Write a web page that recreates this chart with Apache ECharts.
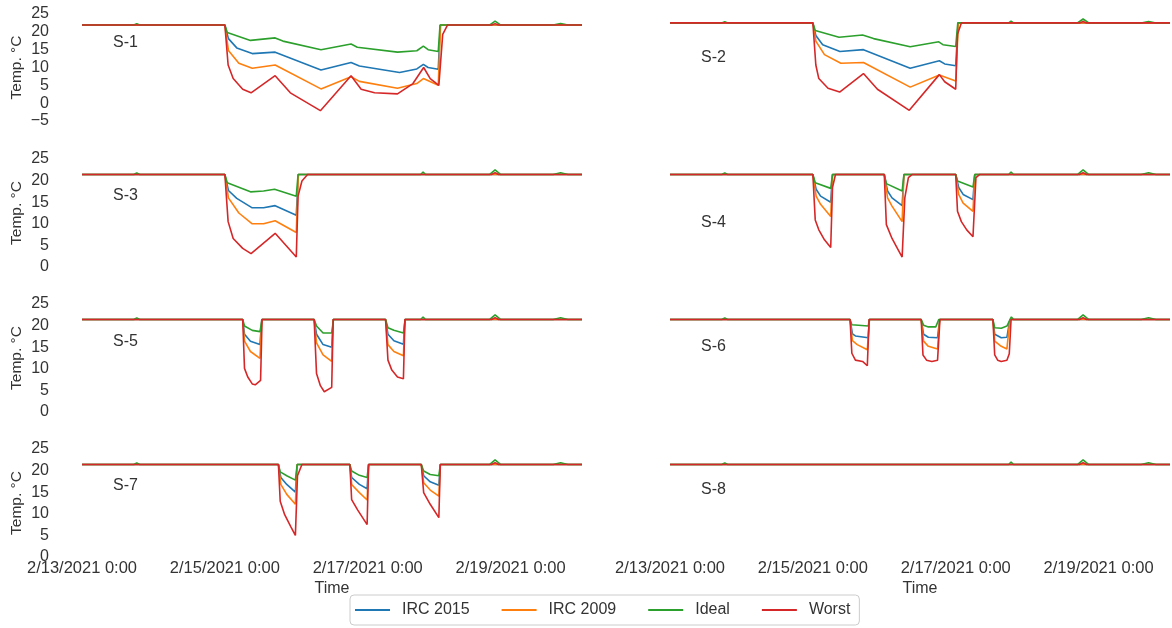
<!DOCTYPE html>
<html><head><meta charset="utf-8">
<script src="https://cdn.jsdelivr.net/npm/echarts@6/dist/echarts.min.js"></script>
<style>html,body{margin:0;padding:0;background:#fff}#c{width:1172px;height:628px}</style>
</head><body><div id="c"></div>
<script>
// ---------- DATA (x = hours since 2/13/2021 0:00, y = °C) ----------
const TICK_LABELS = ['2/13/2021 0:00', '2/15/2021 0:00', '2/17/2021 0:00', '2/19/2021 0:00'];
const SERIES_NAMES = ['IRC 2015', 'IRC 2009', 'Ideal', 'Worst'];
const PANEL_NAMES = ['S-1', 'S-2', 'S-3', 'S-4', 'S-5', 'S-6', 'S-7', 'S-8'];

const S1_IRC2015 = [[0,21.9],[48,21.9],[49.2,18.1],[52,15.5],[57.2,13.9],[64.9,14.3],[80.3,9.3],[90.4,11.4],[93.2,10.4],[106.7,8.6],[112.5,9.6],[114.7,10.9],[116.3,10.0],[119.7,9.5],[120.4,21.9],[168,21.9]];
const S1_IRC2009 = [[0,21.9],[48,21.9],[49.2,14.8],[52.7,11.2],[57.2,9.8],[64.9,10.7],[80.3,4.0],[90.4,7.4],[93.2,6.1],[106,4.2],[112.5,5.5],[114.7,6.9],[119.7,5.0],[120.5,21.9],[168,21.9]];
const S1_IDEAL = [[0,21.9],[17.4,21.9],[18.4,22.25],[19.4,21.9],[48,21.9],[48.8,19.8],[56.6,17.6],[64.9,18.3],[67.5,17.4],[80.3,15.0],[90.4,16.6],[92.5,15.7],[106,14.3],[112.5,14.7],[114.7,16.0],[116.3,15.0],[119.7,14.5],[120.3,21.9],[136.9,21.9],[138.8,23.0],[140.7,21.9],[158.3,21.9],[160.8,22.3],[163.3,21.9],[168,21.9]];
const S1_WORST = [[0,21.9],[48,21.9],[49.1,10.7],[50.8,6.9],[54,3.9],[56.8,2.9],[64.9,7.7],[70,2.9],[80.1,-2.1],[90.4,7.7],[93.8,3.9],[98.3,2.9],[106,2.6],[111.2,5.5],[114.8,10.0],[117,6.9],[119.9,5.0],[121.2,19.3],[122.8,21.9],[137.6,21.9],[138.8,22.3],[140,21.9],[168,21.9]];

const S2_IRC2015 = [[0,22.5],[48,22.5],[49,19.0],[51.3,16.4],[57.1,14.5],[65,15.0],[80.7,9.8],[90.5,11.9],[92.3,11.0],[96,10.5],[96.8,22.5],[168,22.5]];
const S2_IRC2009 = [[0,22.5],[48,22.5],[49,17.4],[51.9,13.6],[57.4,11.2],[65,11.4],[80.7,4.5],[90.5,7.9],[96,6.2],[96.9,22.5],[168,22.5]];
const S2_IDEAL = [[0,22.5],[17.4,22.5],[18.4,22.85],[19.4,22.5],[48,22.5],[48.8,20.4],[56.8,18.5],[64.7,19.1],[68.4,18.1],[80.7,15.8],[90.3,17.2],[91.7,16.4],[96,15.9],[96.7,22.5],[113.8,22.5],[114.6,23.0],[115.4,22.5],[136.9,22.5],[138.8,23.6],[140.7,22.5],[158.3,22.5],[160.8,22.9],[163.3,22.5],[168,22.5]];
const S2_WORST = [[0,22.5],[48,22.5],[49,10.7],[50,6.9],[53.1,4.2],[57,3.1],[65,8.3],[69.7,3.9],[80.4,-2.0],[90.5,8.0],[92.3,6.0],[96,3.9],[96.6,19.3],[97.9,22.5],[137.6,22.5],[138.8,22.9],[140,22.5],[168,22.5]];

const S3_IRC2015 = [[0,21.4],[48,21.4],[49.2,17.7],[52,15.9],[57.2,13.7],[61,13.7],[64.9,14.2],[72,12.0],[72.7,21.4],[168,21.4]];
const S3_IRC2009 = [[0,21.4],[48,21.4],[49.2,16.0],[52.7,12.5],[57.2,10.0],[61,10.0],[64.9,10.7],[72,8.0],[72.7,21.4],[168,21.4]];
const S3_IDEAL = [[0,21.4],[17.4,21.4],[18.4,21.75],[19.4,21.4],[48,21.4],[48.8,19.5],[56.6,17.4],[61,17.6],[64.7,18.0],[72,16.4],[72.6,21.4],[113.8,21.4],[114.6,22.0],[115.4,21.4],[136.9,21.4],[138.8,22.5],[140.7,21.4],[158.3,21.4],[160.8,21.8],[163.3,21.4],[168,21.4]];
const S3_WORST = [[0,21.4],[48,21.4],[49.1,10.5],[50.8,6.6],[54,4.3],[56.8,3.1],[64.9,7.8],[72,2.3],[72.6,16.4],[73.9,19.9],[75.8,21.4],[137.6,21.4],[138.8,21.8],[140,21.4],[168,21.4]];

const S4_IRC2015 = [[0,21.4],[48,21.4],[49.1,18.0],[50.6,16.4],[54,15.0],[54.6,21.4],[72,21.4],[73.1,17.6],[74.6,16.0],[78,14.2],[78.6,21.4],[96,21.4],[97,18.4],[98.5,16.8],[101.8,15.6],[102.4,21.4],[168,21.4]];
const S4_IRC2009 = [[0,21.4],[48,21.4],[49.1,16.4],[50.6,14.5],[54,11.7],[54.6,21.4],[72,21.4],[73.1,16.0],[74.6,14.1],[78,10.5],[78.6,21.4],[96,21.4],[97,16.8],[98.5,14.8],[101.8,12.9],[102.4,21.4],[168,21.4]];
const S4_IDEAL = [[0,21.4],[17.4,21.4],[18.4,21.75],[19.4,21.4],[48,21.4],[48.8,19.5],[54,18.2],[54.6,21.4],[72,21.4],[72.7,19.3],[78,17.6],[78.6,21.4],[96,21.4],[96.6,19.9],[101.8,18.5],[102.4,21.4],[113.8,21.4],[114.6,22.0],[115.4,21.4],[136.9,21.4],[138.8,22.5],[140.7,21.4],[158.3,21.4],[160.8,21.8],[163.3,21.4],[168,21.4]];
const S4_WORST = [[0,21.4],[48,21.4],[48.8,10.9],[50,8.6],[51.9,6.3],[54,4.5],[54.6,18.4],[55.6,21.4],[72,21.4],[72.7,9.8],[74.6,6.6],[76.4,4.3],[78,2.3],[78.9,16.0],[80.1,20.7],[81.3,21.4],[96,21.4],[96.6,12.9],[97.9,10.5],[99.7,8.6],[101.8,7.0],[102.8,20.7],[104,21.4],[137.6,21.4],[138.8,21.8],[140,21.4],[168,21.4]];

const S5_IRC2015 = [[0,21.4],[54,21.4],[54.6,18.0],[56.6,16.4],[59.8,15.6],[60.4,21.4],[78,21.4],[78.8,18.0],[81,15.6],[83.9,15.0],[84.4,21.4],[102,21.4],[102.8,18.0],[104.8,16.5],[108,15.7],[108.5,21.4],[168,21.4]];
const S5_IRC2009 = [[0,21.4],[54,21.4],[54.6,16.4],[56.6,14.0],[59.8,12.4],[60.4,21.4],[78,21.4],[78.8,16.0],[81,13.2],[83.9,11.7],[84.4,21.4],[102,21.4],[102.8,15.6],[104.8,14.0],[108,13.0],[108.5,21.4],[168,21.4]];
const S5_IDEAL = [[0,21.4],[17.4,21.4],[18.4,21.75],[19.4,21.4],[54,21.4],[54.6,19.9],[57.2,18.9],[59.8,18.6],[60.5,21.4],[78,21.4],[78.8,19.9],[81,18.3],[83.9,18.3],[84.5,21.4],[102,21.4],[102.8,19.5],[104.8,18.9],[108,18.3],[108.6,21.4],[113.8,21.4],[114.6,22.0],[115.4,21.4],[136.9,21.4],[138.8,22.5],[140.7,21.4],[158.3,21.4],[160.8,21.8],[163.3,21.4],[168,21.4]];
const S5_WORST = [[0,21.4],[54,21.4],[54.6,10.1],[55.7,8.1],[57.2,6.5],[58.2,6.3],[60,7.3],[60.5,21.4],[78,21.4],[78.8,8.9],[80.1,6.1],[81.4,4.7],[83.9,5.7],[84.4,21.4],[102,21.4],[102.8,12.0],[104.1,9.7],[106,8.1],[108,7.7],[108.5,21.4],[137.6,21.4],[138.8,21.8],[140,21.4],[168,21.4]];

const S6_IRC2015 = [[0,21.4],[60.5,21.4],[61.3,18.1],[62.3,17.6],[66.6,17.2],[67,21.4],[84.4,21.4],[85.2,18.0],[86.8,17.3],[89.9,17.2],[90.6,21.4],[108.5,21.4],[109.1,18.0],[111.3,17.2],[113.2,17.3],[114.2,21.4],[168,21.4]];
const S6_IRC2009 = [[0,21.4],[60.5,21.4],[61.3,16.5],[62.9,15.6],[66.3,14.4],[67,21.4],[84.4,21.4],[85.2,16.4],[86.8,15.2],[89.9,14.6],[90.6,21.4],[108.5,21.4],[109.1,16.4],[111.3,15.2],[113.2,14.6],[114.2,21.4],[168,21.4]];
const S6_IDEAL = [[0,21.4],[17.4,21.4],[18.4,21.75],[19.4,21.4],[60.5,21.4],[61.1,20.2],[66.6,19.9],[67,21.4],[84.4,21.4],[85.2,20.1],[86.8,19.7],[89.3,19.7],[90.3,21.4],[108.5,21.4],[109.1,19.5],[111.3,19.4],[113.2,19.9],[114.7,22.0],[115.4,21.4],[136.9,21.4],[138.8,22.5],[140.7,21.4],[158.3,21.4],[160.8,21.8],[163.3,21.4],[168,21.4]];
const S6_WORST = [[0,21.4],[60.5,21.4],[61.1,13.6],[62.3,12.0],[64.7,11.7],[66.3,10.7],[66.9,21.4],[84.4,21.4],[85,13.2],[86.2,12.0],[88,11.7],[89.9,12.0],[90.7,21.4],[108.5,21.4],[109.1,13.2],[110.1,12.0],[111.3,11.7],[113.2,12.0],[114,13.5],[114.6,21.4],[137.6,21.4],[138.8,21.8],[140,21.4],[168,21.4]];

const S7_IRC2015 = [[0,21.4],[66,21.4],[66.8,18.4],[68.8,16.8],[71.7,15.0],[72.3,21.4],[90,21.4],[90.6,18.4],[93.2,16.8],[95.8,15.8],[96.3,21.4],[114,21.4],[114.8,18.8],[117,17.4],[119.9,16.6],[120.4,21.4],[168,21.4]];
const S7_IRC2009 = [[0,21.4],[66,21.4],[66.8,16.8],[68.8,14.5],[71.7,12.2],[72.3,21.4],[90,21.4],[90.6,16.8],[93.2,14.9],[95.8,13.2],[96.3,21.4],[114,21.4],[114.8,17.2],[117,15.5],[119.9,14.1],[120.4,21.4],[168,21.4]];
const S7_IDEAL = [[0,21.4],[17.4,21.4],[18.4,21.75],[19.4,21.4],[66,21.4],[66.6,19.7],[68.8,18.8],[71.7,17.8],[72.3,21.4],[90,21.4],[90.6,19.9],[93.2,18.9],[95.8,18.4],[96.3,21.4],[114,21.4],[114.8,19.9],[117,19.1],[119.9,18.8],[120.4,21.4],[136.9,21.4],[138.8,22.5],[140.7,21.4],[158.3,21.4],[160.8,21.8],[163.3,21.4],[168,21.4]];
const S7_WORST = [[0,21.4],[66,21.4],[66.6,12.9],[68.1,9.8],[70.1,7.1],[71.7,5.0],[72.4,18.8],[73.9,21.4],[90,21.4],[90.6,13.3],[92.6,10.9],[95.8,7.5],[96.3,21.4],[114,21.4],[114.8,14.9],[117,12.2],[119.9,9.1],[120.4,21.4],[137.6,21.4],[138.8,21.8],[140,21.4],[168,21.4]];

const S8_IRC2015 = [[0,21.4],[168,21.4]];
const S8_IRC2009 = [[0,21.4],[168,21.4]];
const S8_IDEAL = [[0,21.4],[17.4,21.4],[18.4,21.75],[19.4,21.4],[113.8,21.4],[114.6,22.0],[115.4,21.4],[136.9,21.4],[138.8,22.5],[140.7,21.4],[158.3,21.4],[160.8,21.8],[163.3,21.4],[168,21.4]];
const S8_WORST = [[0,21.4],[137.6,21.4],[138.8,21.8],[140,21.4],[168,21.4]];

const PANEL_DATA = [
  [S1_IRC2015, S1_IRC2009, S1_IDEAL, S1_WORST],
  [S2_IRC2015, S2_IRC2009, S2_IDEAL, S2_WORST],
  [S3_IRC2015, S3_IRC2009, S3_IDEAL, S3_WORST],
  [S4_IRC2015, S4_IRC2009, S4_IDEAL, S4_WORST],
  [S5_IRC2015, S5_IRC2009, S5_IDEAL, S5_WORST],
  [S6_IRC2015, S6_IRC2009, S6_IDEAL, S6_WORST],
  [S7_IRC2015, S7_IRC2009, S7_IDEAL, S7_WORST],
  [S8_IRC2015, S8_IRC2009, S8_IDEAL, S8_WORST]
];

// ---------- LAYOUT / STYLE ----------
const COLORS = ['#1f77b4', '#ff7f0e', '#2ca02c', '#d62728'];
const FONT = "'Liberation Sans', Arial, sans-serif";
const TXT = '#333333';
const ROW_TOP = [14, 159, 304, 449];
const ROW_H = [107, 108, 108, 108];
const COL_LEFT = [82, 670];
const COL_W = 500;
const Y_MIN = [-5, 0, 0, 0];
const LABEL_POS = [[113, 44], [701, 59], [113, 197], [701, 224], [113, 343], [701, 348], [113, 487], [701, 491]];

const grids = [], xAxes = [], yAxes = [], series = [], graphics = [];
for (let i = 0; i < 8; i++) {
  const row = Math.floor(i / 2), col = i % 2;
  grids.push({ left: COL_LEFT[col], top: ROW_TOP[row], width: COL_W, height: ROW_H[row], containLabel: false });
  const bottom = row === 3;
  xAxes.push({
    type: 'value', gridIndex: i, min: 0, max: 168, interval: 48,
    axisLine: { show: false }, axisTick: { show: false }, splitLine: { show: false },
    axisLabel: {
      show: bottom, margin: 3, fontSize: 16.5, color: TXT, fontFamily: FONT, showMaxLabel: false,
      formatter: v => (v % 48 === 0 && TICK_LABELS[v / 48]) ? TICK_LABELS[v / 48] : ''
    },
    name: bottom ? 'Time' : '', nameLocation: 'middle', nameGap: 24,
    nameTextStyle: { fontSize: 16, color: TXT, fontFamily: FONT }
  });
  yAxes.push({
    type: 'value', gridIndex: i, min: Y_MIN[row], max: 25, interval: 5,
    axisLine: { show: false }, axisTick: { show: false }, splitLine: { show: false },
    axisLabel: {
      show: col === 0, margin: 33, fontSize: 16, color: TXT, fontFamily: FONT,
      formatter: v => String(v).replace('-', '\u2212')
    },
    name: col === 0 ? 'Temp. °C' : '', nameLocation: 'middle', nameGap: 57, nameRotate: 90,
    nameTextStyle: { fontSize: 15.5, color: TXT, fontFamily: FONT }
  });
  for (let j = 0; j < 4; j++) {
    series.push({
      type: 'line', name: SERIES_NAMES[j], xAxisIndex: i, yAxisIndex: i,
      data: PANEL_DATA[i][j], symbol: 'none', showSymbol: false, clip: false,
      lineStyle: { width: 1.6, color: COLORS[j] }, itemStyle: { color: COLORS[j] },
      z: 2 + j, animation: false, silent: true
    });
  }
  graphics.push({
    type: 'text', left: LABEL_POS[i][0], top: LABEL_POS[i][1] - 9,
    style: { text: PANEL_NAMES[i], fontSize: 16, fill: TXT, fontFamily: FONT }
  });
}

const chart = echarts.init(document.getElementById('c'), null, { renderer: 'canvas' });
chart.setOption({
  backgroundColor: '#fff',
  animation: false,
  grid: grids, xAxis: xAxes, yAxis: yAxes, series: series, graphic: graphics,
  legend: {
    data: SERIES_NAMES, left: 350, top: 595,
    orient: 'horizontal', itemGap: 32, itemWidth: 35, itemHeight: 2, icon: 'rect',
    padding: [7, 9, 7, 5],
    borderColor: '#cccccc', borderWidth: 1, borderRadius: 4, backgroundColor: '#fff',
    textStyle: { fontSize: 16, color: TXT, fontFamily: FONT, padding: [0, 0, 0, 7] }
  }
});
</script></body></html>
